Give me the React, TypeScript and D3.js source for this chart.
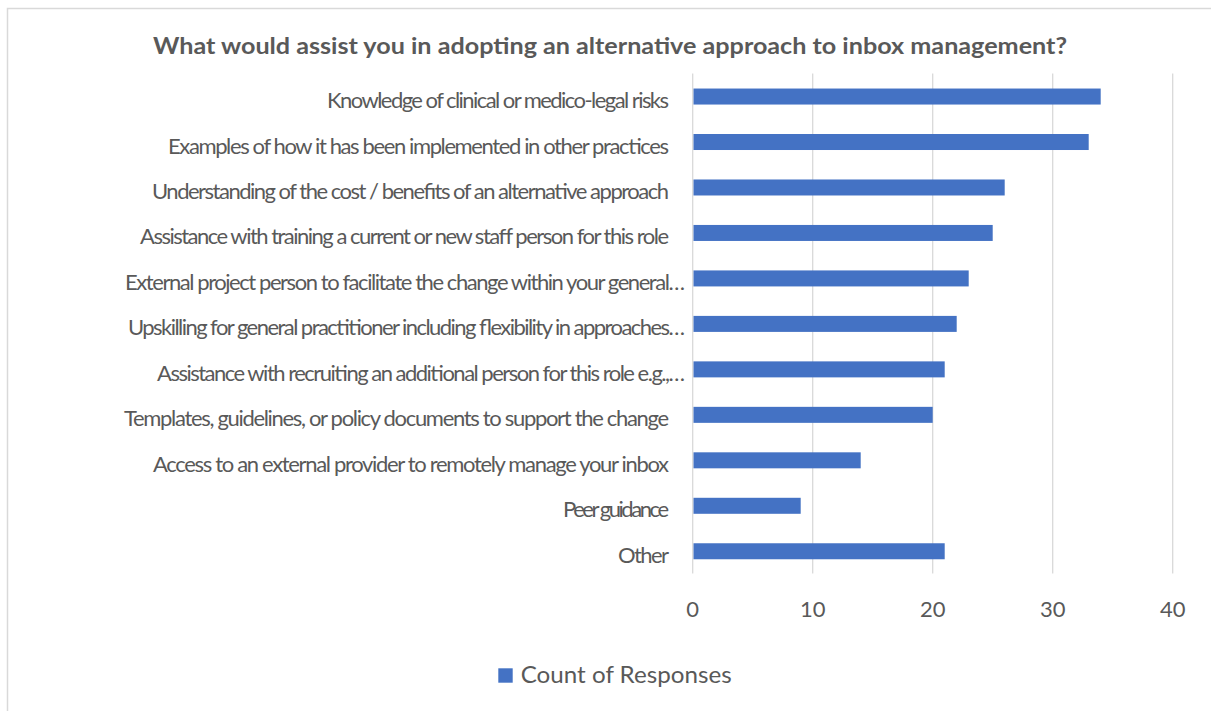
import React from "react";
import * as d3 from "d3";

const title = "What would assist you in adopting an alternative approach to inbox management?";

const categories = [
  "Knowledge of clinical or medico-legal risks",
  "Examples of how it has been implemented in other practices",
  "Understanding of the cost / benefits of an alternative approach",
  "Assistance with training a current or new staff person for this role",
  "External project person to facilitate the change within your general…",
  "Upskilling for general practitioner including flexibility in approaches…",
  "Assistance with recruiting an additional person for this role e.g.,…",
  "Templates, guidelines, or policy documents to support the change",
  "Access to an external provider to remotely manage your inbox",
  "Peer guidance",
  "Other",
];

const counts = [34, 33, 26, 25, 23, 22, 21, 20, 14, 9, 21];

// approximate rendered label widths
const labelWidths = [342, 501, 517, 529, 560, 557, 528, 545, 516, 106, 51];

const xTicks = [0, 10, 20, 30, 40];

const seriesName = "Count of Responses";

const W = 1211;
const H = 711;
const TEXT = "#595959";
const GRID = "#d9d9d9";
const BAR = "#4472C4";
const FONT = "Lato, 'Open Sans', sans-serif";

export default function App() {
  const x = d3.scaleLinear().domain([0, 40]).range([692.7, 1172.7]);
  const y = d3
    .scaleBand<string>()
    .domain(categories)
    .range([73.8, 574])
    .paddingInner(0.648)
    .paddingOuter(0.324);

  const gridTop = 73.6;
  const gridBottom = 573.5;

  return (
    <svg
      width={W}
      height={H}
      style={{ position: "absolute", left: 0, top: 0, background: "#fff" }}
    >
      <rect x={0} y={0} width={W} height={H} fill="#fff" />
      <rect
        x={7.5}
        y={8.5}
        width={W + 50}
        height={H + 50}
        fill="none"
        stroke={GRID}
        strokeWidth={1.5}
      />
      <text
        x={610}
        y={54}
        textAnchor="middle"
        fontFamily={FONT}
        fontWeight={700}
        fontSize={23}
        fill={TEXT}
        textLength={914}
        lengthAdjust="spacingAndGlyphs"
      >
        {title}
      </text>

      {xTicks.map((t) => (
        <line
          key={"g" + t}
          x1={x(t)}
          x2={x(t)}
          y1={gridTop}
          y2={gridBottom}
          stroke={GRID}
          strokeWidth={1.3}
        />
      ))}

      {categories.map((c, i) => (
        <rect
          key={"b" + i}
          x={x(0) + 0.8}
          y={y(c)!}
          width={x(counts[i]) - x(0) - 0.8}
          height={y.bandwidth()}
          fill={BAR}
        />
      ))}

      {categories.map((c, i) => {
        const ell = c.endsWith("…");
        const endX = ell ? 685 : 669;
        return (
          <text
            key={"l" + i}
            x={endX}
            y={y(c)! + y.bandwidth() / 2 + 11.5}
            textAnchor="end"
            fontFamily={FONT}
            fontSize={22}
            fill={TEXT}
            textLength={labelWidths[i]}
            lengthAdjust="spacing"
          >
            {c}
          </text>
        );
      })}

      {xTicks.map((t) => (
        <text
          key={"t" + t}
          x={x(t)}
          y={617}
          textAnchor="middle"
          fontFamily={FONT}
          fontSize={22}
          fill={TEXT}
        >
          {t}
        </text>
      ))}

      <rect x={498.3} y={668.3} width={14.4} height={14.4} fill={BAR} />
      <text
        x={520.7}
        y={682.7}
        fontFamily={FONT}
        fontSize={23}
        fill={TEXT}
        textLength={211}
        lengthAdjust="spacingAndGlyphs"
      >
        {seriesName}
      </text>
    </svg>
  );
}
